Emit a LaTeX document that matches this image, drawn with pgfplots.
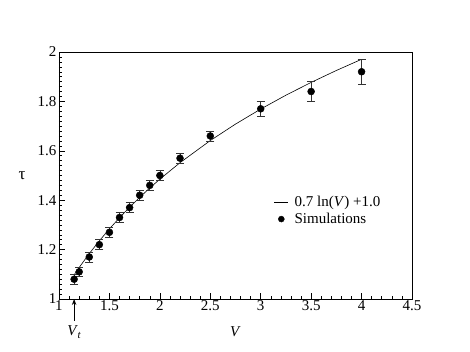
\documentclass[border=0pt]{standalone}
\usepackage{fontspec}
\setmainfont{Liberation Serif}
\usepackage{pgfplots}
\pgfplotsset{compat=1.18}
\usetikzlibrary{arrows.meta}
\pgfplotsset{
  legline/.style={legend image code/.code={\draw[##1] (0pt,0pt) -- (14pt,0pt);}},
  legmark/.style={legend image code/.code={\draw[##1, mark size=3pt] plot coordinates {(7pt,0pt)};}},
}
\begin{document}
\begin{tikzpicture}
\useasboundingbox (-59pt,-53pt) rectangle (411pt,299pt);
\begin{axis}[
  at={(0pt,0pt)}, anchor=south west,
  scale only axis, width=353pt, height=247pt,
  xmin=1, xmax=4.5, ymin=1, ymax=2,
  xtick={1,1.5,...,4.5}, ytick={1,1.2,...,2},
  minor x tick num=4, minor y tick num=9,
  tick pos=left, tick align=inside,
  major tick length=6pt, minor tick length=3pt,
  every tick/.style={black, line width=0.5pt},
  axis line style={black, line width=0.7pt},
  /pgf/number format/assume math mode=true,
  ticklabel style={font=\fontsize{15}{17}\selectfont},
  xticklabel style={yshift=2pt},
  yticklabel style={xshift=1pt},
  xlabel={\fontsize{15}{17}\selectfont\textit{V}},
  xlabel style={at={(axis description cs:0.5,0)}, anchor=north, yshift=-24pt},
  ylabel={\fontsize{17}{19}\selectfont τ},
  ylabel style={rotate=-90, at={(axis description cs:0,0.5)}, anchor=center, xshift=-37pt},
  legend style={draw=none, fill=none, font=\fontsize{15}{17}\selectfont,
    at={(axis cs:3.12,1.425)}, anchor=north west, row sep=3pt, column sep=5pt,
    inner sep=1pt, nodes={inner sep=1pt}},
  legend cell align=left,
  clip=false,
]
\addplot[black, line width=0.6pt, no markers, legline] coordinates {
(1.15,1.0978) (1.2,1.1276) (1.3,1.1837) (1.4,1.2355) (1.5,1.2838)
(1.6,1.3290) (1.7,1.3714) (1.8,1.4115) (1.9,1.4493) (2.0,1.4852)
(2.2,1.5519) (2.5,1.6414) (2.75,1.7081) (3.0,1.7690) (3.25,1.8251)
(3.5,1.8769) (3.75,1.9252) (4.0,1.9704)
};
\addlegendentry{0.7 ln(\textit{V}) +1.0}
\addplot[only marks, mark=*, mark size=3.5pt, black, legmark,
  error bars/.cd, y dir=both, y explicit,
  error bar style={black!80, line width=0.6pt},
  error mark options={rotate=90, mark size=4pt, black!80, line width=0.6pt},
] coordinates {
(1.15,1.08) +- (0,0.02)
(1.2,1.11) +- (0,0.02)
(1.3,1.17) +- (0,0.02)
(1.4,1.22) +- (0,0.02)
(1.5,1.27) +- (0,0.02)
(1.6,1.33) +- (0,0.02)
(1.7,1.37) +- (0,0.02)
(1.8,1.42) +- (0,0.02)
(1.9,1.46) +- (0,0.02)
(2.0,1.50) +- (0,0.02)
(2.2,1.57) +- (0,0.02)
(2.5,1.66) +- (0,0.02)
(3.0,1.77) +- (0,0.03)
(3.5,1.84) +- (0,0.04)
(4.0,1.92) +- (0,0.05)
};
\addlegendentry{Simulations}
\draw[-{Stealth[length=6pt,width=4.5pt]}, line width=1pt] ([yshift=-22pt]axis cs:1.15,1) -- (axis cs:1.15,1);
\node[font=\fontsize{15}{17}\selectfont, anchor=north, inner sep=0pt] at ([yshift=-26pt]axis cs:1.15,1) {\textit{V}\kern-0.5pt\raisebox{-0.25em}{\fontsize{11}{12}\selectfont\textit{t}}};
\end{axis}
\end{tikzpicture}
\end{document}
